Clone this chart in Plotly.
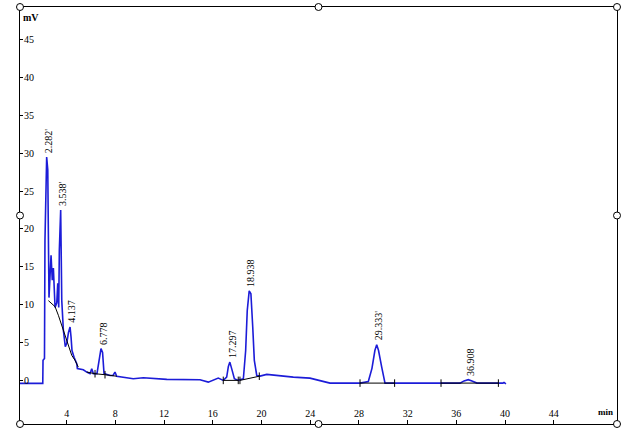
import plotly.graph_objects as go

# chromatogram signal (min, mV)
time_min = [0.17, 1.95, 2.04, 2.06, 2.18, 2.22, 2.36, 2.45, 2.50, 2.55, 2.64, 2.72, 2.82, 2.91,
            3.05, 3.19, 3.27, 3.35, 3.40, 3.51, 3.60, 3.73, 3.89, 4.01, 4.15, 4.28, 4.36, 4.44,
            4.61, 4.83, 4.88, 5.37, 5.65, 5.92, 6.06, 6.19, 6.49, 6.68, 6.82, 6.95, 7.07, 7.56,
            7.81, 7.97, 8.11, 9.47, 10.30, 12.22, 14.4, 14.95, 15.63, 15.77, 16.45, 16.86, 17.14,
            17.28, 17.40, 17.59, 17.77, 18.09, 18.51, 18.70, 18.83, 18.99, 19.13, 19.28, 19.41,
            19.61, 19.88, 20.43, 21.25, 22.61, 23.98, 24.8, 25.62, 28.09, 28.77, 29.07, 29.31,
            29.46, 29.61, 29.87, 30.14, 34.66, 36.3, 36.63, 36.98, 37.28, 37.69, 39.83, 39.91, 40.07]
signal_mv = [-0.45, -0.45, -0.45, 2.6, 2.86, 18.5, 29.5, 27.8, 16.8, 10.9, 13.9, 16.5, 13.2, 14.8,
             9.6, 10.2, 12.8, 9.6, 17.2, 22.5, 10.5, 6.6, 4.4, 4.85, 6.3, 7.0, 5.7, 3.9,
             3.0, 2.15, 1.5, 1.35, 1.05, 0.85, 1.5, 0.85, 0.85, 2.6, 4.15, 3.65, 0.85, 0.6,
             0.6, 1.05, 0.5, 0.17, 0.3, 0.08, 0.04, 0.04, -0.28, -0.2, 0.25, -0.05, 0.38,
             1.8, 2.37, 1.27, 0.17, -0.05, 0.17, 3.9, 9.2, 11.8, 11.4, 7.0, 2.6,
             0.6, 0.52, 0.74, 0.57, 0.38, 0.25, -0.05, -0.41, -0.41, -0.19, 1.54, 3.9,
             4.68, 3.9, 1.7, -0.41, -0.41, -0.41, -0.12, 0.04, -0.12, -0.41, -0.41, -0.32, -0.52]

# integration baselines (None separates segments)
base_t = [2.50, 3.05, 3.32, 3.60, 3.87, 4.14, 4.42, 4.69, 4.96, None,
          5.65, 6.33, 7.15, 8.11, None,
          16.86, 18.09, None, 18.23, 19.82, None, 28.09, 30.93, None, 34.74, 39.45]
base_v = [10.5, 9.7, 8.56, 7.2, 5.7, 4.36, 3.26, 2.6, 1.7, None,
          1.05, 0.83, 0.7, 0.5, None,
          -0.05, -0.05, None, -0.05, 0.5, None, -0.41, -0.41, None, -0.41, -0.41]

# peak boundary marks
mark_t = [6.33, 7.15, 16.86, 18.09, 18.23, 19.82, 28.09, 30.93, 34.74, 39.45]
mark_v = [0.83, 0.7, -0.05, -0.05, -0.05, 0.5, -0.41, -0.41, -0.41, -0.41]

# peak labels
peak_t = [2.36, 3.51, 4.28, 6.82, 17.40, 18.99, 29.46, 36.98]
peak_v = [29.5, 22.5, 7.0, 4.15, 2.37, 11.8, 4.68, 0.04]
peak_labels = ["2.282'", "3.538'", "4.137", "6.778", "17.297", "18.938", "29.333'", "36.908"]

x_ticks = [4, 8, 12, 16, 20, 24, 28, 32, 36, 40, 44]
y_ticks = [-5, 0, 5, 10, 15, 20, 25, 30, 35, 40, 45]

BLUE = "#1c1cd8"
FONT = "Liberation Serif"

fig = go.Figure()
fig.add_trace(go.Scatter(x=time_min, y=signal_mv, mode="lines",
                         line=dict(color=BLUE, width=1.6), hoverinfo="skip"))
fig.add_trace(go.Scatter(x=base_t, y=base_v, mode="lines", connectgaps=False,
                         line=dict(color="black", width=1), hoverinfo="skip"))
mx, my = [], []
for t, v in zip(mark_t, mark_v):
    mx += [t, t, None]
    my += [v - 0.5, v + 0.5, None]
fig.add_trace(go.Scatter(x=mx, y=my, mode="lines",
                         line=dict(color="black", width=1), hoverinfo="skip"))

for t, v, lab in zip(peak_t, peak_v, peak_labels):
    fig.add_annotation(x=t, y=v, text=lab, showarrow=False, textangle=-90,
                       xanchor="center", yanchor="bottom", xshift=2, yshift=2,
                       font=dict(family=FONT, size=10, color="black"))

fig.add_annotation(xref="paper", yref="paper", x=0, y=1, text="<b>mV</b>", showarrow=False,
                   xanchor="left", yanchor="top", xshift=1, yshift=-3,
                   font=dict(family=FONT, size=10, color="black"))
fig.add_annotation(xref="paper", yref="paper", x=1, y=0, text="<b>min</b>", showarrow=False,
                   xanchor="right", yanchor="bottom", xshift=-2, yshift=5,
                   font=dict(family=FONT, size=9, color="black"))

for px_, py_ in [(0, 0), (0.5, 0), (1, 0), (0, 0.5), (1, 0.5), (0, 1), (0.5, 1), (1, 1)]:
    fig.add_shape(type="circle", xref="paper", yref="paper", xsizemode="pixel", ysizemode="pixel",
                  xanchor=px_, yanchor=py_, x0=-3.5, x1=3.5, y0=-3.5, y1=3.5,
                  line=dict(color="black", width=1), fillcolor="white")

fig.update_layout(
    width=639, height=433,
    margin=dict(l=20, r=22, t=7, b=9),
    paper_bgcolor="white", plot_bgcolor="white",
    showlegend=False,
    xaxis=dict(range=[0.17, 49.19], tickvals=x_ticks, ticks="inside", ticklen=4,
               tickcolor="black", ticklabelposition="inside", showgrid=False, zeroline=False,
               showline=True, linecolor="black", linewidth=1, mirror=True,
               tickfont=dict(family=FONT, size=10, color="black")),
    yaxis=dict(range=[-5.82, 49.34], tickvals=y_ticks, ticks="inside", ticklen=3,
               tickcolor="black", ticklabelposition="inside", showgrid=False, zeroline=False,
               showline=True, linecolor="black", linewidth=1, mirror=True,
               tickfont=dict(family=FONT, size=10, color="black")),
)

fig.write_html("out.html", config={"displayModeBar": False},
               post_script="document.body.style.margin='0';document.body.style.padding='0';")
